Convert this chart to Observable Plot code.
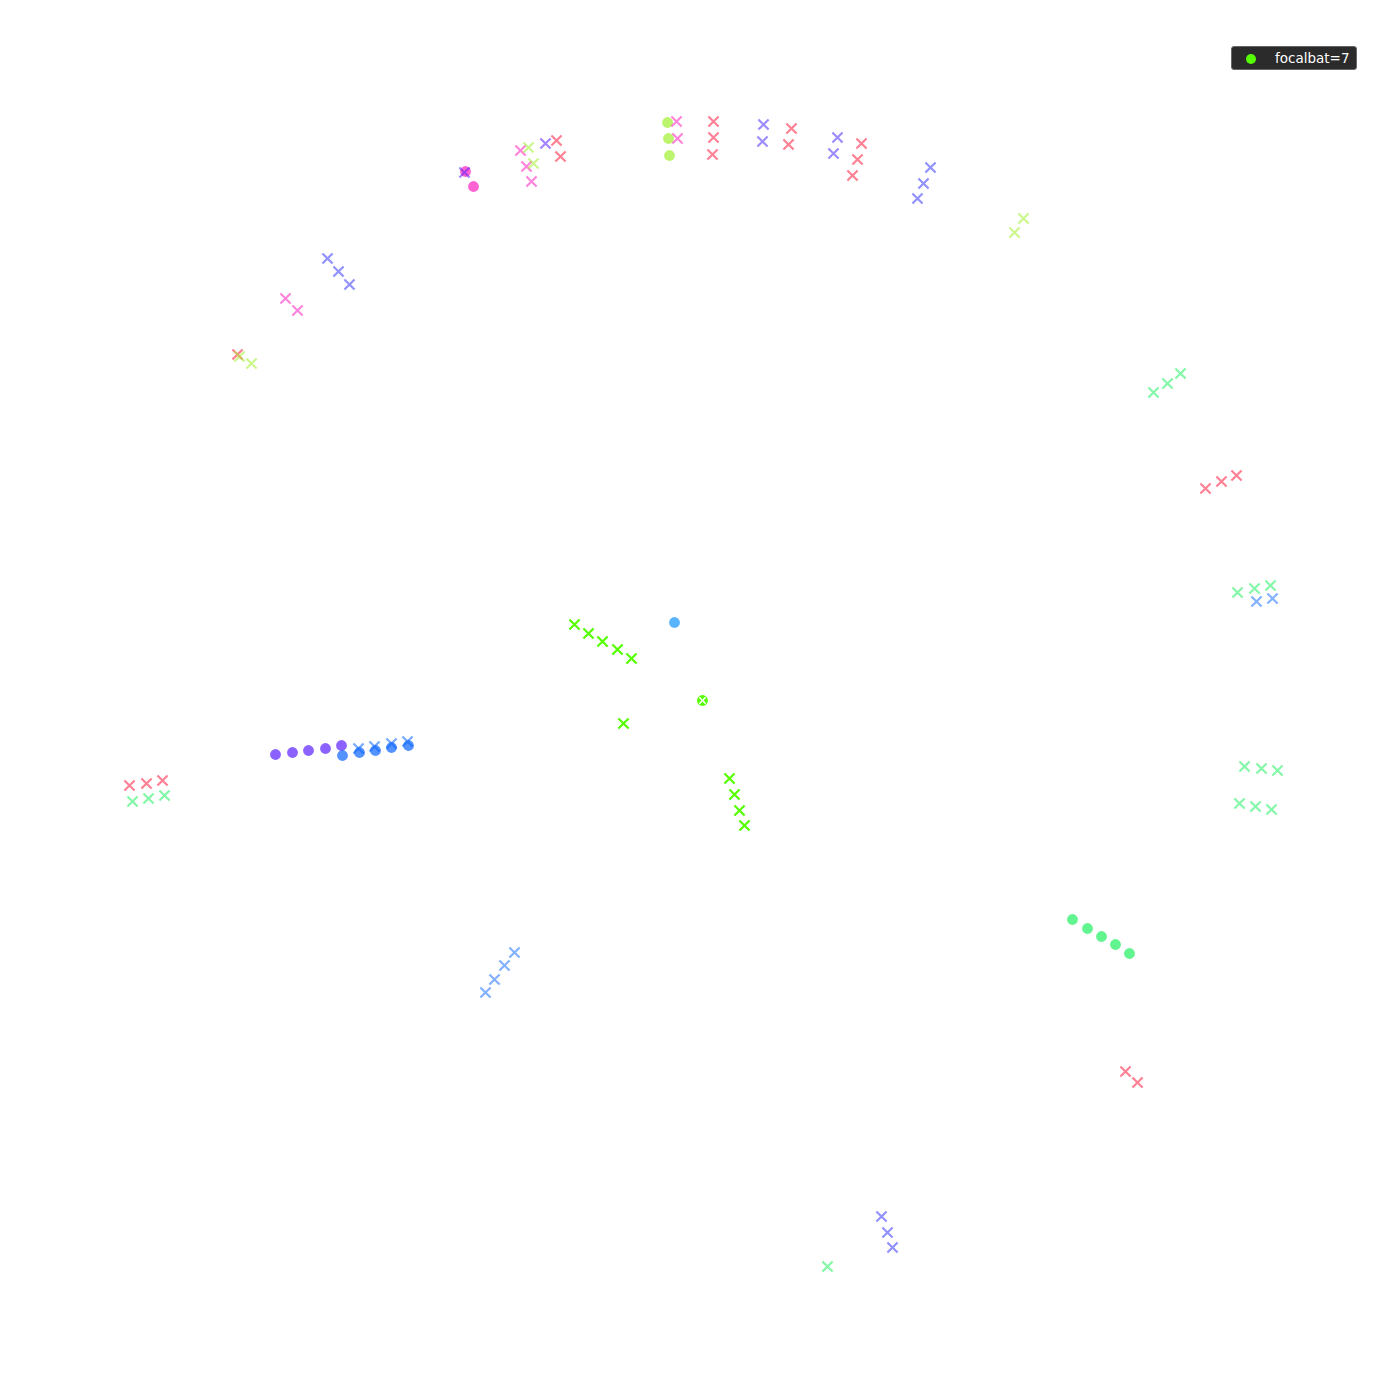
<!DOCTYPE html>
<html>
<head>
<meta charset="utf-8">
<script src="https://cdn.jsdelivr.net/npm/d3@7"></script>
<script src="https://cdn.jsdelivr.net/npm/@observablehq/plot@0.6"></script>
<style>
  body { margin: 0; background: #fff; font-family: "DejaVu Sans", sans-serif; }
  #wrap { position: relative; width: 1400px; height: 1400px; }
  #legend {
    position: absolute; left: 1231px; top: 46px; width: 124px; height: 22px;
    background: #2b2b2b; border: 1px solid #666; border-radius: 3px;
    color: #fff; font-size: 13.5px; line-height: 22px;
  }
  #legend .dot {
    position: absolute; left: 14px; top: 7px; width: 10px; height: 10px;
    border-radius: 50%; background: #55ff00;
  }
  #legend span.lbl { position: absolute; left: 43px; }
</style>
</head>
<body>
<div id="wrap">
  <div id="chart"></div>
  <div id="legend"><div class="dot"></div><span class="lbl">focalbat=7</span></div>
</div>
<script>
// bat colours
const batIds    = ["7", "1", "2", "3", "4", "5", "6", "8", "9", "10", "11"];
const batColors = ["#55ff00", "#ff1a3c", "#3939ff", "#ff20c0", "#a0f030", "#20f060",
                   "#1e71ff", "#5a20ff", "#0a64ff", "#1394ff", "#4a30ff"];

// positions (arena units)
const bat = [
  "7","7","7","7","7","7","7","7","7","7",
  "1","1","1","5","5","5",
  "1","1","3","3","3","3","3","3","3",
  "4","4","4","4","1","4",
  "8","8","1","1","1","1","1","1","1","1",
  "1","1","1","1","1",
  "11","11","11","11","2","2","2","2","2","2","2","2","2",
  "5","5","5","5","5","5","5","5","5","5","5","5","5",
  "6","6","6","6","6","6",
  "9","9","9","9"
];
const xs = [
  574,588,602,617,631,623,729,734,739,744,
  129,146,162,132,148,164,
  556,560,520,526,531,676,677,285,297,
  528,533,1014,1023,237,251,
  545,464,713,713,712,791,788,861,857,852,
  1205,1221,1236,1125,1137,
  763,762,837,833,930,923,917,327,338,349,881,887,892,
  1153,1167,1180,1237,1254,1270,1244,1261,1277,1239,1255,1271,827,
  1256,1272,485,494,504,514,
  358,374,391,407
];
const ys = [
  624,633,641,649,658,723,778,794,810,825,
  785,783,780,801,798,795,
  140,156,150,166,181,121,138,298,310,
  147,163,232,218,354,363,
  143,172,121,137,154,128,144,143,159,175,
  488,481,475,1071,1082,
  124,141,137,153,167,183,198,258,271,284,1216,1232,1247,
  392,383,373,592,588,585,766,768,770,803,806,809,1266,
  601,598,992,979,965,952,
  748,746,743,741
];
// a few bats tracked as filled markers
const dotBat = ["7","8","8","8","8","8","9","9","9","9","9","3","3","4","4","4","10","5","5","5","5","5","4"];
const dotX   = [702,275,292,308,325,341,342,359,375,391,408,465,473,667,668,669,674,1072,1087,1101,1115,1129,239];
const dotY   = [700,754,752,750,748,745,755,752,750,747,745,171,186,122,138,155,622,919,928,936,944,953,356];

const crosses = bat.map((b, i) => ({bat: b, x: xs[i], y: ys[i]}));
const dots = dotBat.slice(0, -1).map((b, i) => ({bat: b, x: dotX[i], y: dotY[i]}));
const extraCross = [{bat: dotBat[22], x: dotX[22], y: dotY[22]}];

const chart = Plot.plot({
  width: 1400,
  height: 1400,
  margin: 0,
  x: {domain: [0, 1400], axis: null},
  y: {domain: [1400, 0], axis: null},
  color: {domain: batIds, range: batColors},
  marks: [
    Plot.dot(dots, {x: "x", y: "y", fill: "bat", r: 5.4,
      fillOpacity: d => d.bat === "7" ? 1 : 0.7}),
    Plot.dot(crosses.concat(extraCross), {x: "x", y: "y", stroke: "bat", symbol: "times", r: 4.7, strokeWidth: 2.2,
      strokeOpacity: d => d.bat === "7" ? 1 : 0.55}),
    // focal bat's current spot is overdrawn in white
    Plot.dot(dots.filter(d => d.bat === "7"), {x: "x", y: "y", stroke: "white", symbol: "times", r: 3, strokeWidth: 1.5})
  ]
});

document.getElementById("chart").append(chart);
</script>
</body>
</html>
